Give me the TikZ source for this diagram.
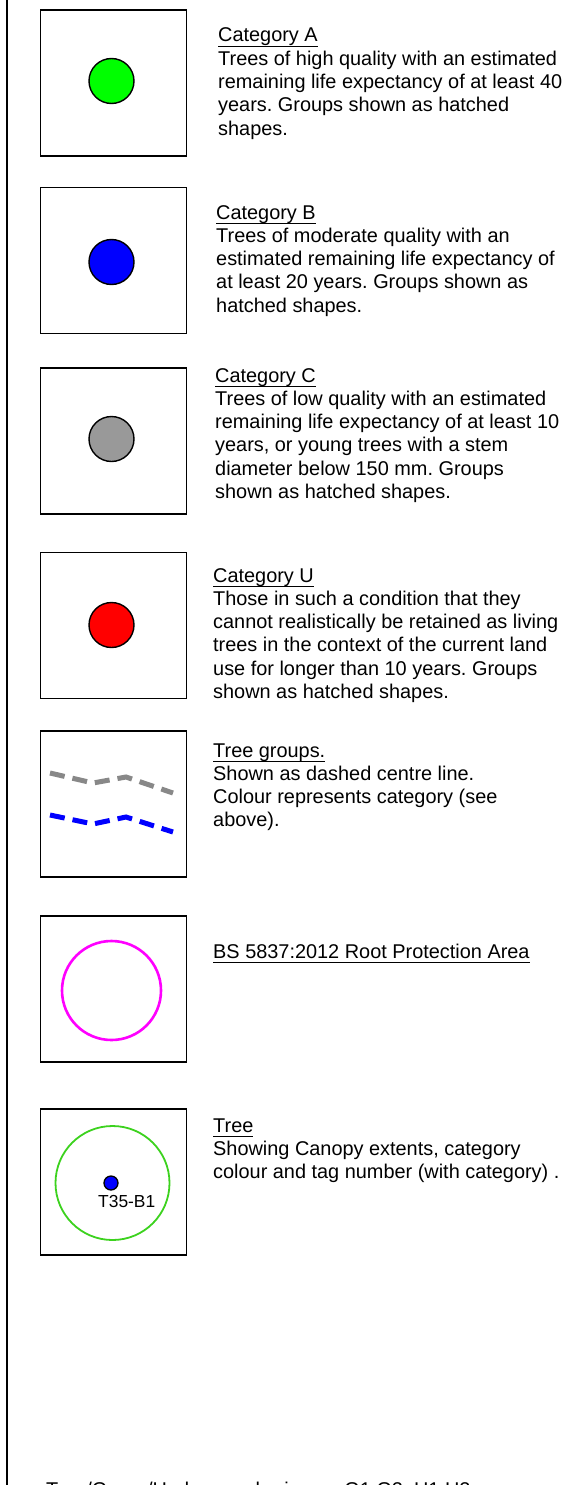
\documentclass[tikz,border=0pt]{standalone}
\usepackage{fontspec}
\setmainfont{Liberation Sans}
\frenchspacing
\newcommand{\myul}[1]{\leavevmode\setbox0\hbox{#1}\rlap{\rule[-5pt]{\wd0}{1.3pt}}\box0}
\definecolor{catA}{RGB}{0,255,0}
\definecolor{catB}{RGB}{0,0,255}
\definecolor{catC}{RGB}{153,153,153}
\definecolor{catU}{RGB}{255,0,0}
\definecolor{grpgray}{RGB}{136,136,136}
\definecolor{rpa}{RGB}{255,0,255}
\definecolor{canopy}{RGB}{60,210,30}
\begin{document}
\begin{tikzpicture}[x=1pt,y=-1pt,
  keybox/.style={draw=black, line width=1.5pt, minimum width=146pt, minimum height=146pt, inner sep=0},
  dot/.style={circle, draw=black, line width=1.4pt, minimum size=45pt, inner sep=0},
  desc/.style={anchor=base west, inner sep=0, font=\fontsize{19.9}{23.3}\selectfont},
  grp/.style={line width=5pt, dash pattern=on 15pt off 8pt}
]
\useasboundingbox (0,0) rectangle (574,1485);
\clip (0,0) rectangle (574,1485);
\fill[white] (0,0) rectangle (574,1485);
\coordinate (ltop) at (7,0);
\coordinate (lbot) at (7,1485);
\draw[line width=2pt] (ltop) -- (lbot);

% boxes
\node[keybox] (boxA) at (113.5,83) {};
\node[keybox] (boxB) at (113.5,260.5) {};
\node[keybox] (boxC) at (113.5,441) {};
\node[keybox] (boxU) at (113.5,625.5) {};
\node[keybox] (boxG) at (113.5,804) {};
\node[keybox] (boxR) at (113.5,989) {};
\node[keybox] (boxT) at (113.5,1182) {};

% category dots
\node[dot, fill=catA] (dotA) at (111.5,81) {};
\node[dot, fill=catB] (dotB) at (111.5,262) {};
\node[dot, fill=catC] (dotC) at (111.5,439) {};
\node[dot, fill=catU] (dotU) at (111.5,625) {};

% tree groups
\coordinate (g1) at (50,773);
\coordinate (g2) at (93,783);
\coordinate (g3) at (126,777);
\coordinate (g4) at (173,793);
\draw[grp, draw=grpgray] (g1) -- (g2) -- (g3) -- (g4);
\coordinate (b1) at (50,815);
\coordinate (b2) at (93,824);
\coordinate (b3) at (126,817);
\coordinate (b4) at (173,832);
\draw[grp, draw=catB] (b1) -- (b2) -- (b3) -- (b4);

% RPA
\node[circle, draw=rpa, line width=2.6pt, minimum size=99pt, inner sep=0] (rpa) at (111.5,990.5) {};

% tree
\node[circle, draw=canopy, line width=1.8pt, minimum size=114pt, inner sep=0] (canopy) at (112.5,1183) {};
\node[circle, draw=black, fill=catB, line width=1.3pt, minimum size=14pt, inner sep=0] (stem) at (111,1183) {};
\node[anchor=base west, inner sep=0, font=\fontsize{17.4}{20}\selectfont] (tag) at (98,1207) {T35-B1};

% descriptions
\node[desc] (tA) at (218,42) {\parbox[t]{400pt}{\myul{Category A}\\Trees of high quality with an estimated\\remaining life expectancy of at least 40\\years. Groups shown as hatched\\shapes.}};
\node[desc] (tB) at (216,219) {\parbox[t]{400pt}{\myul{Category B}\\Trees of moderate quality with an\\estimated remaining life expectancy of\\at least 20 years. Groups shown as\\hatched shapes.}};
\node[desc] (tC) at (215,382) {\parbox[t]{400pt}{\myul{Category C}\\Trees of low quality with an estimated\\remaining life expectancy of at least 10\\years, or young trees with a stem\\diameter below 150 mm. Groups\\shown as hatched shapes.}};
\node[desc] (tU) at (213,582) {\parbox[t]{400pt}{\myul{Category U}\\Those in such a condition that they\\cannot realistically be retained as living\\trees in the context of the current land\\use for longer than 10 years. Groups\\shown as hatched shapes.}};
\node[desc] (tG) at (213,757) {\parbox[t]{400pt}{\myul{Tree groups.}\\Shown as dashed centre line.\\Colour represents category (see\\above).}};
\node[desc] (tR) at (213,958) {\parbox[t]{400pt}{\myul{BS 5837:2012 Root Protection Area}}};
\node[desc] (tT) at (213,1132) {\parbox[t]{400pt}{\myul{Tree}\\Showing Canopy extents, category\\colour and tag number (with category) .}};
\node[desc] (tN) at (46,1496) {Tree/Group/Hedge numbering:\hspace{28pt}G1,G2, H1,H2};
\end{tikzpicture}
\end{document}
